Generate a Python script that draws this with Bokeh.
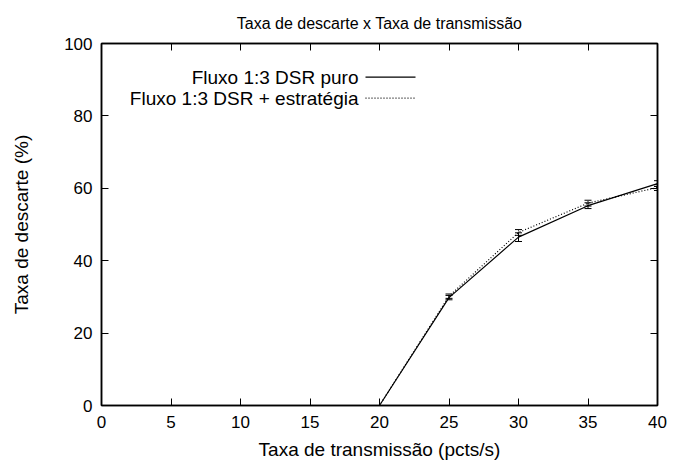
from bokeh.plotting import figure
from bokeh.models import Range1d, LinearAxis, FixedTicker, Whisker, TeeHead, ColumnDataSource, Label
from bokeh.embed import file_html
from bokeh.resources import INLINE

# ---- data ----
rate = [20, 25, 30, 35, 40]
puro = [0.0, 29.8, 46.5, 55.2, 61.3]
puro_err = [0.0, 0.6, 1.2, 0.8, 0.8]
estr = [0.0, 30.2, 47.8, 55.9, 60.2]
estr_err = [0.0, 0.6, 0.8, 0.8, 0.8]
x_ticks = [0, 5, 10, 15, 20, 25, 30, 35, 40]
y_ticks = [0, 20, 40, 60, 80, 100]
labels = ["Fluxo 1:3 DSR puro", "Fluxo 1:3 DSR + estratégia"]
title = "Taxa de descarte x Taxa de transmissão"

FONT = "Liberation Sans"
W, H = 680, 462
ML, MR, MT, MB = 101, 23, 42, 55

p = figure(width=W, height=H, output_backend="svg", toolbar_location=None,
           x_range=Range1d(0, 40), y_range=Range1d(0, 100),
           min_border_left=ML, min_border_right=MR, min_border_top=MT, min_border_bottom=MB,
           title=title)
p.title.align = "center"
p.title.text_font = FONT
p.title.text_font_size = "16px"
p.title.text_font_style = "normal"
p.title.text_color = "black"
p.title.standoff = 24
p.xgrid.visible = False
p.ygrid.visible = False
p.outline_line_color = "black"
p.outline_line_width = 1.5
p.background_fill_color = "white"
p.border_fill_color = "white"

for ax in (p.xaxis[0], p.yaxis[0]):
    ax.major_tick_in = 7
    ax.major_tick_out = 0
    ax.minor_tick_in = 0
    ax.minor_tick_out = 0
    ax.axis_line_color = "black"
    ax.axis_line_width = 1.5
    ax.major_tick_line_color = "black"
    ax.major_label_text_font = FONT
    ax.major_label_text_font_size = "17px"
    ax.major_label_text_color = "black"
    ax.axis_label_text_font = FONT
    ax.axis_label_text_font_size = "19px"
    ax.axis_label_text_font_style = "normal"
    ax.axis_label_text_color = "black"

p.xaxis[0].ticker = FixedTicker(ticks=x_ticks)
p.yaxis[0].ticker = FixedTicker(ticks=y_ticks)
p.xaxis[0].axis_label = "Taxa de transmissão (pcts/s)"
p.yaxis[0].axis_label = "Taxa de descarte (%)"
p.xaxis[0].major_label_standoff = 10
p.yaxis[0].major_label_standoff = 9
p.xaxis[0].axis_label_standoff = 8
p.yaxis[0].axis_label_standoff = 29

# mirrored ticks (right and top)
for loc, tk in (("right", y_ticks), ("above", x_ticks)):
    a = LinearAxis(ticker=FixedTicker(ticks=tk), major_label_overrides={t: "" for t in tk},
                   major_label_text_font_size="1px",
                   major_tick_in=7, major_tick_out=0, minor_tick_in=0, minor_tick_out=0,
                   axis_line_color="black", axis_line_width=1.5, major_label_standoff=0)
    p.add_layout(a, loc)

# data lines
s1 = ColumnDataSource(dict(x=rate, y=puro, lo=[v - e for v, e in zip(puro, puro_err)],
                           hi=[v + e for v, e in zip(puro, puro_err)]))
s2 = ColumnDataSource(dict(x=rate, y=estr, lo=[v - e for v, e in zip(estr, estr_err)],
                           hi=[v + e for v, e in zip(estr, estr_err)]))
p.line("x", "y", source=s1, line_color="black", line_width=1.2)
p.line("x", "y", source=s2, line_color="black", line_width=1.2, line_dash="1 2")
for src, dash in ((s1, "solid"), (s2, "1 1")):
    w = Whisker(source=src, base="x", lower="lo", upper="hi", line_color="black",
                line_width=1, line_dash=dash,
                upper_head=TeeHead(size=7, line_color="black", line_width=1),
                lower_head=TeeHead(size=7, line_color="black", line_width=1))
    p.add_layout(w)

# legend (gnuplot style: text right-aligned, sample to the right)
plot_w = W - ML - MR
plot_h = H - MT - MB
def sx(px):  # frame pixel offset from left -> data x
    return 40 * px / plot_w
def sy(py):  # frame pixel offset from top -> data y
    return 100 * (1 - py / plot_h)

rows_py = [34, 55]
text_right = 257
samp0, samp1 = 264, 314
for i, (lab, dash) in enumerate(zip(labels, ["solid", "1 2"])):
    p.add_layout(Label(x=sx(text_right), y=sy(rows_py[i]), text=lab,
                       text_align="right", text_baseline="middle",
                       text_font=FONT, text_font_size="19px", text_color="black"))
    p.segment(x0=[sx(samp0)], y0=[sy(rows_py[i])], x1=[sx(samp1)], y1=[sy(rows_py[i])],
              line_color="black", line_width=1.2, line_dash=dash)

open("out.html", "w").write(file_html(p, INLINE))
